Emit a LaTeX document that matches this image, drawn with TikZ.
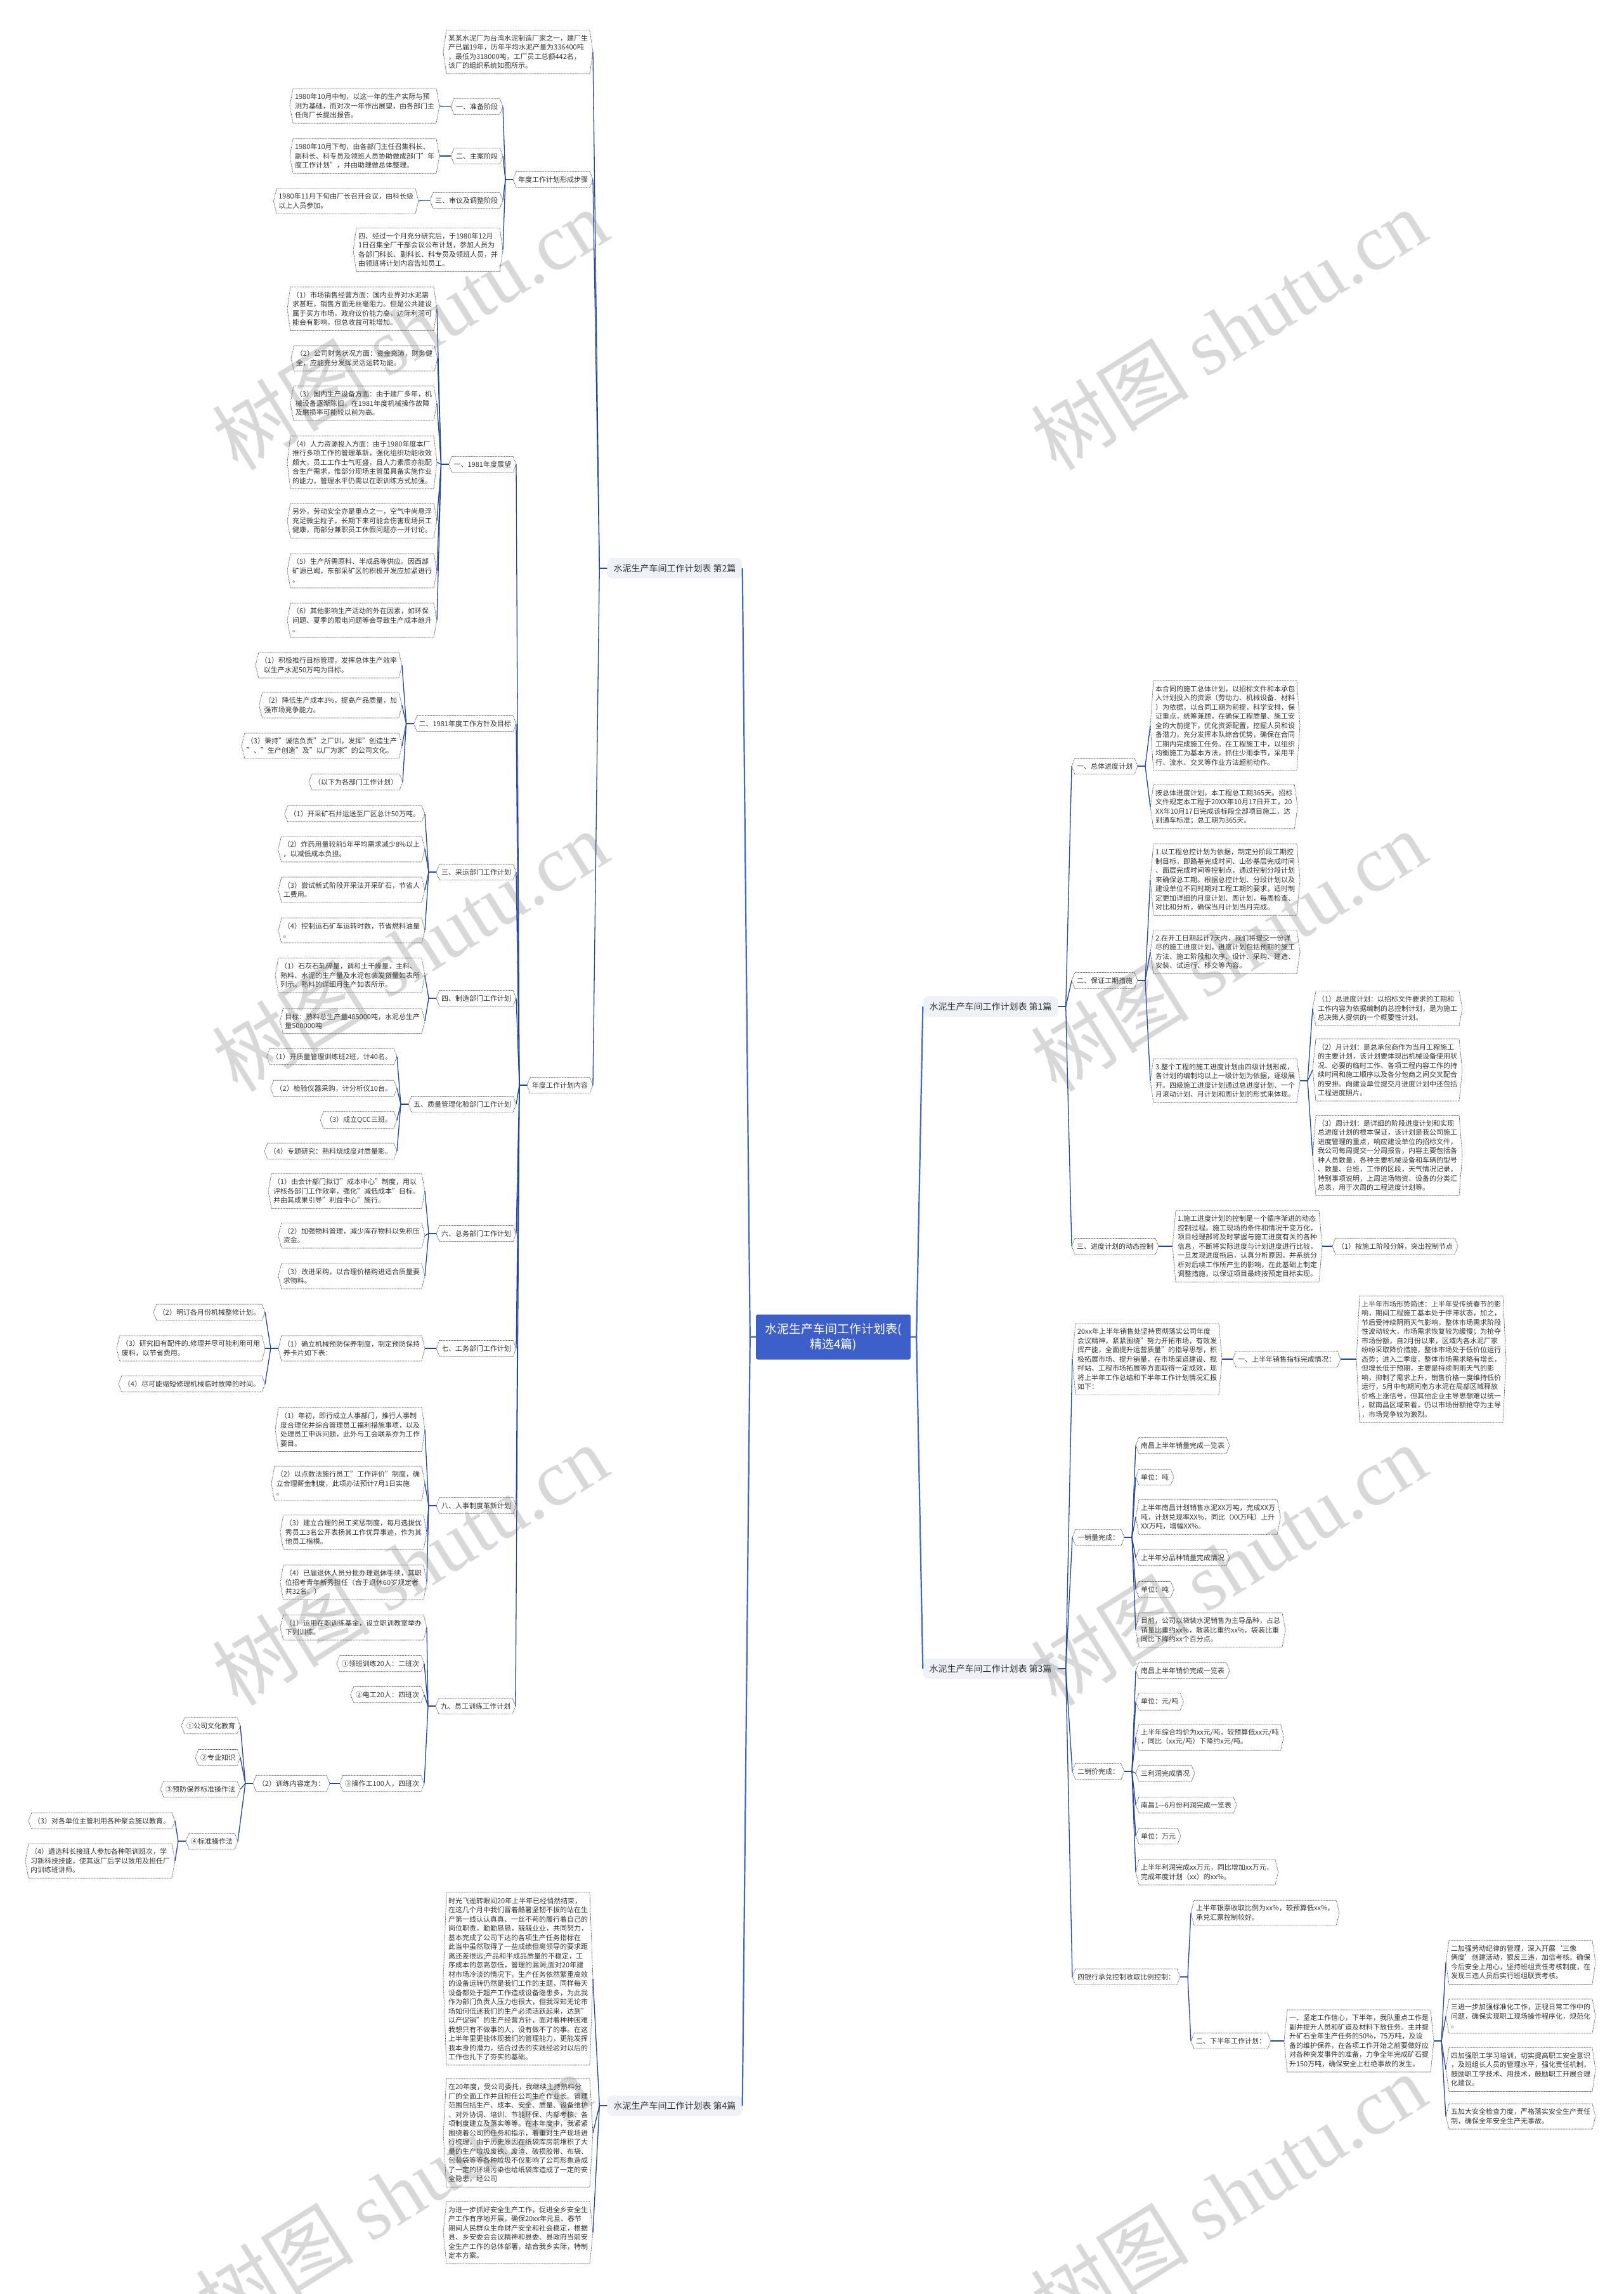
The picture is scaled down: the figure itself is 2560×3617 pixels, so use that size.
\documentclass[tikz,border=0pt]{standalone}
\usepackage{fontspec}
\setmainfont{Noto Sans CJK SC}
\newfontfamily\latinserif{Liberation Serif}

\definecolor{hubblue}{HTML}{3D5FC9}
\definecolor{trunkblue}{HTML}{4167D0}
\definecolor{linkblue}{HTML}{24469F}
\definecolor{partfill}{HTML}{EEF1F6}
\definecolor{inkgray}{HTML}{333333}
\definecolor{dashgray}{HTML}{555555}

\begin{document}
\begin{tikzpicture}[
    x=1pt, y=-1pt,
    hub/.style={fill=hubblue, text=white, rounded corners=3pt, align=center, font=\fontsize{19}{24}\selectfont, minimum width=244pt, minimum height=71pt, inner sep=6pt},
    part/.style={fill=partfill, text=inkgray, rounded corners=8pt, font=\fontsize{14}{17}\selectfont, minimum width=213pt, minimum height=32pt, inner xsep=8pt},
    txt/.style={text=inkgray, align=left, font=\fontsize{11}{14.5}\selectfont, inner xsep=3pt, inner ysep=7.5pt, outer xsep=5pt, outer ysep=0pt},
    boxline/.style={draw=dashgray, line width=0.7pt, dash pattern=on 1.6pt off 0.9pt, line join=round},
    trunk/.style={draw=trunkblue, line width=2.2pt},
    link/.style={draw=linkblue, line width=1.3pt},
    wmark/.style={text=black!60, opacity=0.25, rotate=32, font=\fontsize{125}{125}\selectfont}
]

% Canvas
\useasboundingbox (0,0) rectangle (2560,3617);
\fill[white] (0,0) rectangle (2560,3617);

% Centre
\node[hub] (root) at (1314,2108) {水泥生产车间工作计划表(\\精选4篇)};

% Parts
\node[part] (p1) at (1562,1587) {水泥生产车间工作计划表 第1篇};
\node[part] (p2) at (1064,896) {水泥生产车间工作计划表 第2篇};
\node[part] (p3) at (1562,2631) {水泥生产车间工作计划表 第3篇};
\node[part] (p4) at (1064,3320) {水泥生产车间工作计划表 第4篇};

% Part 2: intro and steps
\node[txt, anchor=east] (intro) at (935,82) {某某水泥厂为台湾水泥制造厂家之一，建厂生\\产已届19年，历年平均水泥产量为336400吨\\，最低为318000吨，工厂员工总额442名，\\该厂的组织系统如图所示。};
\node[txt, anchor=east] (steps) at (935,283) {年度工作计划形成步骤};
\node[txt, anchor=east] (st1) at (793,168) {一、准备阶段};
\node[txt, anchor=east] (st1a) at (693,167) {1980年10月中旬，以这一年的生产实际与预\\测为基础，而对次一年作出展望，由各部门主\\任向厂长提出报告。};
\node[txt, anchor=east] (st2) at (793,246) {二、主案阶段};
\node[txt, anchor=east] (st2a) at (693,246) {1980年10月下旬，由各部门主任召集科长、\\副科长、科专员及领班人员协助做成部门"年\\度工作计划"，并由助理做总体整理。};
\node[txt, anchor=east] (st3) at (793,316) {三、审议及调整阶段};
\node[txt, anchor=east] (st3a) at (660,317) {1980年11月下旬由厂长召开会议，由科长级\\以上人员参加。};
\node[txt, anchor=east] (st4) at (793,394) {四、经过一个月充分研究后，于1980年12月\\1日召集全厂干部会议公布计划，参加人员为\\各部门科长、副科长、科专员及领班人员，并\\由领班将计划内容告知员工。};

% Part 2: plan content
\node[txt, anchor=east] (content) at (935,1711) {年度工作计划内容};
\node[txt, anchor=east] (c1) at (814,732) {一、1981年度展望};
\node[txt, anchor=east] (c1a) at (689,487) {（1）市场销售经营方面：国内业界对水泥需\\求甚旺，销售方面无丝毫阻力。但是公共建设\\属于买方市场，政府议价能力高，边际利润可\\能会有影响，但总收益可能增加。};
\node[txt, anchor=east] (c1b) at (690,565) {（2）公司财务状况方面：资金充沛，财务健\\全，应能充分发挥灵活运转功能。};
\node[txt, anchor=east] (c1c) at (689,636) {（3）国内生产设备方面：由于建厂多年，机\\械设备逐渐陈旧，在1981年度机械操作故障\\及磨损率可能较以前为高。};
\node[txt, anchor=east] (c1d) at (689,729) {（4）人力资源投入方面：由于1980年度本厂\\推行多项工作的管理革新，强化组织功能收效\\颇大，员工工作士气旺盛，且人力素质亦能配\\合生产需求，惟部分现场主管虽具备实施作业\\的能力，管理水平仍需以在职训练方式加强。};
\node[txt, anchor=east] (c1e) at (689,821) {另外，劳动安全亦是重点之一，空气中尚悬浮\\充足微尘粒子，长期下来可能会伤害现场员工\\健康，而部分兼职员工休假问题亦一并讨论。};
\node[txt, anchor=east] (c1f) at (689,900) {（5）生产所需原料、半成品等供应。因西部\\矿源已竭，东部采矿区的积极开发应加紧进行\\。};
\node[txt, anchor=east] (c1g) at (689,978) {（6）其他影响生产活动的外在因素，如环保\\问题、夏季的限电问题等会导致生产成本趋升\\。};

\node[txt, anchor=east] (c2) at (814,1141) {二、1981年度工作方针及目标};
\node[txt, anchor=east] (c2a) at (634,1049) {（1）积极推行目标管理，发挥总体生产效率\\\hspace{5pt}以生产水泥50万吨为目标。};
\node[txt, anchor=east] (c2b) at (634,1112) {（2）降低生产成本3\%，提高产品质量，加\\强市场竞争能力。};
\node[txt, anchor=east] (c2c) at (634,1176) {（3）秉持"诚信负责"之厂训，发挥"创造生产\\"、"生产创造"及"以厂为家"的公司文化。};
\node[txt, anchor=east] (c2d) at (635,1233) {（以下为各部门工作计划）};

\node[txt, anchor=east] (c3) at (814,1375) {三、采运部门工作计划};
\node[txt, anchor=east] (c3a) at (670,1283) {（1）开采矿石并运送至厂区总计50万吨。};
\node[txt, anchor=east] (c3b) at (670,1339) {（2）炸药用量较前5年平均需求减少8\%以上\\，以减低成本负担。};
\node[txt, anchor=east] (c3c) at (670,1403) {（3）尝试新式阶段开采法开采矿石，节省人\\工费用。};
\node[txt, anchor=east] (c3d) at (670,1467) {（4）控制运石矿车运转时数，节省燃料油量\\。};

\node[txt, anchor=east] (c4) at (814,1574) {四、制造部门工作计划};
\node[txt, anchor=east] (c4a) at (670,1538) {（1）石灰石轧碎量，调和土干燥量，主料、\\熟料、水泥的生产量及水泥包装发货量如表所\\列示。熟料的详细月生产如表所示。};
\node[txt, anchor=east] (c4b) at (670,1610) {目标：熟料总生产量485000吨，水泥总生产\\量500000吨};

\node[txt, anchor=east] (c5) at (814,1741) {五、质量管理化验部门工作计划};
\node[txt, anchor=east] (c5a) at (626,1666) {（1）开质量管理训练班2班，计40名。};
\node[txt, anchor=east] (c5b) at (626,1716) {（2）检验仪器采购，计分析仪10台。};
\node[txt, anchor=east] (c5c) at (626,1766) {（3）成立QCC三班。};
\node[txt, anchor=east] (c5d) at (626,1815) {（4）专题研究：熟料烧成度对质量影。};

\node[txt, anchor=east] (c6) at (814,1945) {六、总务部门工作计划};
\node[txt, anchor=east] (c6a) at (670,1878) {（1）由会计部门拟订"成本中心"制度，用以\\评核各部门工作效率，强化"减低成本"目标。\\并由其成果引导"利益中心"施行。};
\node[txt, anchor=east] (c6b) at (670,1948) {（2）加强物料管理，减少库存物料以免积压\\资金。};
\node[txt, anchor=east] (c6c) at (670,2012) {（3）改进采购，以合理价格购进适合质量要\\求物料。};

\node[txt, anchor=east] (c7) at (814,2126) {七、工务部门工作计划};
\node[txt, anchor=east] (c7a) at (670,2126) {（1）确立机械预防保养制度，制定预防保持\\养卡片如下表：};
\node[txt, anchor=east] (c7a1) at (418,2069) {（2）明订各月份机械整修计划。};
\node[txt, anchor=east] (c7a2) at (418,2126) {（3）研究旧有配件的.修理并尽可能利用可用\\废料，以节省费用。};
\node[txt, anchor=east] (c7a3) at (418,2182) {（4）尽可能缩短修理机械临时故障的时间。};

\node[txt, anchor=east] (c8) at (814,2374) {八、人事制度革新计划};
\node[txt, anchor=east] (c8a) at (670,2254) {（1）年初，即行成立人事部门，推行人事制\\度合理化并综合管理员工福利措施事项，以及\\处理员工申诉问题，此外与工会联系亦为工作\\要目。};
\node[txt, anchor=east] (c8b) at (670,2339) {（2）以点数法施行员工"工作评价"制度，确\\立合理薪金制度，此项办法预计7月1日实施\\。};
\node[txt, anchor=east] (c8c) at (673,2416) {（3）建立合理的员工奖惩制度，每月选拔优\\秀员工3名公开表扬其工作优异事迹，作为其\\他员工楷模。};
\node[txt, anchor=east] (c8d) at (673,2495) {（4）已届退休人员分批办理退休手续，其职\\位招考青年新秀担任（合于退休60岁规定者\\共32名。）};

\node[txt, anchor=east] (c9) at (813,2690) {九、员工训练工作计划};
\node[txt, anchor=east] (c9a) at (673,2566) {（1）运用在职训练基金，设立职训教室举办\\下列训练。};
\node[txt, anchor=east] (c9b) at (669,2623) {①领班训练20人：二班次};
\node[txt, anchor=east] (c9c) at (669,2672) {②电工20人：四班次};
\node[txt, anchor=east] (c9d) at (669,2812) {③操作工100人，四班次};
\node[txt, anchor=east] (c9d1) at (520,2812) {（2）训练内容定为：};
\node[txt, anchor=east] (c9e1) at (379,2721) {①公司文化教育};
\node[txt, anchor=east] (c9e2) at (379,2771) {②专业知识};
\node[txt, anchor=east] (c9e3) at (379,2821) {③预防保养标准操作法};
\node[txt, anchor=east] (c9e4) at (375,2903) {④标准操作法};
\node[txt, anchor=east] (c9f1) at (276,2871) {（3）对各单位主管利用各种聚会施以教育。};
\node[txt, anchor=east] (c9f2) at (276,2934) {（4）遴选科长接班人参加各种职训班次，学\\习新科技技能，使其返厂后学以致用及担任厂\\内训练班讲师。};

% Part 4
\node[txt, anchor=east] (d1) at (935,3120) {时光飞逝转眼间20年上半年已经悄然结束，\\在这几个月中我们冒着酷暑坚韧不拔的站在生\\产第一线认认真真、一丝不苟的履行着自己的\\岗位职责，勤勤恳恳，兢兢业业，共同努力，\\基本完成了公司下达的各项生产任务指标在\\此当中虽然取得了一些成绩但离领导的要求距\\离还差很远;产品和半成品质量的不稳定，工\\序成本的忽高忽低，管理的漏洞;面对20年建\\材市场冷淡的情况下，生产任务依然繁重高效\\的设备运转仍然是我们工作的主题，同样每天\\设备都处于超产工作造成设备隐患多，为此我\\作为部门负责人压力也很大，但我深知无论市\\场如何低迷我们的生产必须活跃起来，达到"\\以产促销"的生产经营方针，面对着种种困难\\我想只有不做事的人，没有做不了的事。在这\\上半年里更能体现我们的管理能力，更能发挥\\我本身的潜力，结合过去的实践经验对以后的\\工作也扎下了夯实的基础。};
\node[txt, anchor=east] (d2) at (935,3363) {在20年度，受公司委托，我继续主持熟料分\\厂的全面工作并且担任公司生产作业长。管理\\范围包括生产、成本、安全、质量、设备维护\\、对外协调、培训、节能环保、内部考核、各\\项制度建立及落实等等。在本年度中，我紧紧\\围绕着公司的任务和指示，着重对生产现场进\\行梳理，由于历史原因在纸袋库房前堆积了大\\量的生产垃圾废铁、废渣、破损胶带、布袋、\\包装袋等等各种垃圾不仅影响了公司形象造成\\了一定的环境污染也给纸袋库造成了一定的安\\全隐患，经公司};
\node[txt, anchor=east] (d3) at (935,3520) {为进一步抓好安全生产工作，促进全乡安全生\\产工作有序地开展，确保20xx年元旦、春节\\期间人民群众生命财产安全和社会稳定，根据\\县、乡安委会会议精神和县委、县政府当前安\\全生产工作的总体部署，结合我乡实际，特制\\定本方案。};

% Part 1
\node[txt, anchor=west] (r1) at (1690,1208) {一、总体进度计划};
\node[txt, anchor=west] (r1a) at (1814,1144) {本合同的施工总体计划，以招标文件和本承包\\人计划投入的资源（劳动力、机械设备、材料\\）为依据，以合同工期为前提，科学安排，保\\证重点，统筹兼顾，在确保工程质量、施工安\\全的大前提下，优化资源配置，挖掘人员和设\\备潜力，充分发挥本队综合优势，确保在合同\\工期内完成施工任务。在工程施工中，以组织\\均衡施工为基本方法，抓住少雨季节，采用平\\行、流水、交叉等作业方法超前动作。};
\node[txt, anchor=west] (r1b) at (1814,1272) {按总体进度计划，本工程总工期365天。招标\\文件规定本工程于20XX年10月17日开工，20\\XX年10月17日完成该标段全部项目施工，达\\到通车标准；总工期为365天。};
\node[txt, anchor=west] (r2) at (1690,1546) {二、保证工期措施};
\node[txt, anchor=west] (r2a) at (1814,1387) {1.以工程总控计划为依据，制定分阶段工期控\\制目标，即路基完成时间、山砂基层完成时间\\、面层完成时间等控制点，通过控制分段计划\\来确保总工期。根据总控计划、分段计划以及\\建设单位不同时期对工程工期的要求，适时制\\定更加详细的月度计划、周计划，每周检查、\\对比和分析，确保当月计划当月完成。};
\node[txt, anchor=west] (r2b) at (1814,1501) {2.在开工日期起计7天内，我们将提交一份详\\尽的施工进度计划，进度计划包括预期的施工\\方法、施工阶段和次序、设计、采购、建造、\\安装、试运行、移交等内容。};
\node[txt, anchor=west] (r2c) at (1814,1704) {3.整个工程的施工进度计划由四级计划形成，\\各计划的编制均以上一级计划为依据，逐级展\\开。四级施工进度计划通过总进度计划、一个\\月滚动计划、月计划和周计划的形式来体现。};
\node[txt, anchor=west] (r2c1) at (2070,1590) {（1）总进度计划：以招标文件要求的工期和\\工作内容为依据编制的总控制计划，是为施工\\总决策人提供的一个概要性计划。};
\node[txt, anchor=west] (r2c2) at (2070,1687) {（2）月计划：是总承包商作为当月工程施工\\的主要计划，该计划要体现出机械设备使用状\\况、必要的临时工作、各项工程内容工作的持\\续时间和施工顺序以及各分包商之间交叉配合\\的安排。向建设单位提交月进度计划中还包括\\工程进度照片。};
\node[txt, anchor=west] (r2c3) at (2070,1822) {（3）周计划：是详细的阶段进度计划和实现\\总进度计划的根本保证，该计划是我公司施工\\进度管理的重点，响应建设单位的招标文件，\\我公司每周提交一分周报告，内容主要包括各\\种人员数量，各种主要机械设备和车辆的型号\\、数量、台班，工作的区段，天气情况记录，\\特别事项说明，上周进场物资、设备的分类汇\\总表，用于次周的工程进度计划等。};
\node[txt, anchor=west] (r3) at (1690,1965) {三、进度计划的动态控制};
\node[txt, anchor=west] (r3a) at (1849,1965) {1.施工进度计划的控制是一个循序渐进的动态\\控制过程。施工现场的条件和情况千变万化，\\项目经理部将及时掌握与施工进度有关的各种\\信息，不断将实际进度与计划进度进行比较，\\一旦发现进度拖后，认真分析原因，并系统分\\析对后续工作所产生的影响，在此基础上制定\\调整措施，以保证项目最终按预定目标实现。};
\node[txt, anchor=west] (r3a1) at (2101,1965) {（1）按施工阶段分解，突出控制节点};

% Part 3
\node[txt, anchor=west] (s1) at (1691,2143) {20xx年上半年销售处坚持贯彻落实公司年度\\会议精神，紧紧围绕"努力开拓市场，有效发\\挥产能，全面提升运营质量"的指导思想，积\\极拓展市场、提升销量，在市场渠道建设、搅\\拌站、工程市场拓展等方面取得一定成效，现\\将上半年工作总结和下半年工作计划情况汇报\\如下：};
\node[txt, anchor=west] (s1a) at (1944,2143) {一、上半年销售指标完成情况：};
\node[txt, anchor=west] (s1a1) at (2139,2143) {上半年市场形势简述：上半年受传统春节的影\\响，期间工程施工基本处于停滞状态，加之，\\节后受持续阴雨天气影响，整体市场需求阶段\\性波动较大，市场需求恢复较为缓慢；为抢夺\\市场份额，自2月份以来，区域内各水泥厂家\\纷纷采取降价措施，整体市场处于低价位运行\\态势；进入二季度，整体市场需求略有增长，\\但增长低于预期，主要是持续阴雨天气的影\\响，抑制了需求上升，销售价格一度维持低价\\运行，5月中旬期间南方水泥在局部区域释放\\价格上涨信号，但其他企业主导思想难以统一\\，就南昌区域来看，仍以市场份额抢夺为主导\\，市场竞争较为激烈。};
\node[txt, anchor=west] (s2) at (1691,2424) {一销量完成：};
\node[txt, anchor=west] (s2a) at (1791,2279) {南昌上半年销量完成一览表};
\node[txt, anchor=west] (s2b) at (1791,2329) {单位：吨};
\node[txt, anchor=west] (s2c) at (1791,2392) {上半年南昌计划销售水泥XX万吨，完成XX万\\吨，计划兑现率XX\%，同比（XX万吨）上升\\XX万吨，增幅XX\%。};
\node[txt, anchor=west] (s2d) at (1791,2456) {上半年分品种销量完成情况};
\node[txt, anchor=west] (s2e) at (1791,2506) {单位：吨};
\node[txt, anchor=west] (s2f) at (1791,2570) {目前，公司以袋装水泥销售为主导品种，占总\\销量比重约xx\%，散装比重约xx\%，袋装比重\\同比下降约xx个百分点。};
\node[txt, anchor=west] (s3) at (1691,2793) {二销价完成：};
\node[txt, anchor=west] (s3a) at (1791,2634) {南昌上半年销价完成一览表};
\node[txt, anchor=west] (s3b) at (1791,2683) {单位：元/吨};
\node[txt, anchor=west] (s3c) at (1791,2739) {上半年综合均价为xx元/吨，较预算低xx元/吨\\，同比（xx元/吨）下降约x元/吨。};
\node[txt, anchor=west] (s3d) at (1791,2796) {三利润完成情况};
\node[txt, anchor=west] (s3e) at (1791,2846) {南昌1—6月份利润完成一览表};
\node[txt, anchor=west] (s3f) at (1791,2895) {单位：万元};
\node[txt, anchor=west] (s3g) at (1791,2952) {上半年利润完成xx万元，同比增加xx万元，\\完成年度计划（xx）的xx\%。};
\node[txt, anchor=west] (s4) at (1691,3117) {四银行承兑控制收取比例控制：};
\node[txt, anchor=west] (s4a) at (1878,3016) {上半年银票收取比例为xx\%，较预算低xx\%，\\承兑汇票控制较好。};
\node[txt, anchor=west] (s4b) at (1878,3218) {二、下半年工作计划：};
\node[txt, anchor=west] (s4b1) at (2025,3218) {一、坚定工作信心，下半年，我队重点工作是\\副井提升人员和矿道及材料下放任务。主井提\\升矿石全年生产任务的50\%，75万吨，及设\\备的维护保养，在各项工作开始之前要做好应\\对各种突发事件的准备，力争全年完成矿石提\\升150万吨，确保安全上杜绝事故的发生。};
\node[txt, anchor=west] (s4c1) at (2280,3094) {二加强劳动纪律的管理，深入开展‘三像\\俩度’创建活动，狠反三违，加倍考核。确保\\今后安全上用心，坚持班组责任考核制度，在\\发现三违人员后实行班组联责考核。};
\node[txt, anchor=west] (s4c2) at (2280,3179) {三进一步加强标准化工作，正视日常工作中的\\问题，确保实现职工现场操作程序化，规范化\\。};
\node[txt, anchor=west] (s4c3) at (2280,3263) {四加强职工学习培训，切实提高职工安全意识\\，及班组长人员的管理水平，强化责任机制，\\鼓励职工学技术、用技术，鼓励职工开展合理\\化建议。};
\node[txt, anchor=west] (s4c4) at (2280,3337) {五加大安全检查力度，严格落实安全生产责任\\制，确保全年安全生产无事故。};

% Box outlines
\foreach \n in {intro,steps,st1,st1a,st2,st2a,st3,st3a,st4,content,
    c1,c1a,c1b,c1c,c1d,c1e,c1f,c1g,c2,c2a,c2b,c2c,c2d,c3,c3a,c3b,c3c,c3d,
    c4,c4a,c4b,c5,c5a,c5b,c5c,c5d,c6,c6a,c6b,c6c,c7,c7a,c7a1,c7a2,c7a3,
    c8,c8a,c8b,c8c,c8d,c9,c9a,c9b,c9c,c9d,c9d1,c9e1,c9e2,c9e3,c9e4,c9f1,c9f2,
    d1,d2,d3,r1,r1a,r1b,r2,r2a,r2b,r2c,r2c1,r2c2,r2c3,r3,r3a,r3a1,
    s1,s1a,s1a1,s2,s2a,s2b,s2c,s2d,s2e,s2f,s3,s3a,s3b,s3c,s3d,s3e,s3f,s3g,
    s4,s4a,s4b,s4b1,s4c1,s4c2,s4c3,s4c4}
    \draw[boxline] ([xshift=5pt]\n.north west) -- ([xshift=-5pt]\n.north east) -- (\n.east)
        -- ([xshift=-5pt]\n.south east) -- ([xshift=5pt]\n.south west) -- (\n.west) -- cycle;

% Trunk
\foreach \c in {p2,p4} \draw[trunk] (root.west) -- ++(-9,0) -- (\c.east);
\foreach \c in {p1,p3} \draw[trunk] (root.east) -- ++(9,0) -- (\c.west);

% Left connectors
\foreach \p/\c in {p2/intro,p2/steps,p2/content,steps/st1,steps/st2,steps/st3,steps/st4,
    st1/st1a,st2/st2a,st3/st3a,
    content/c1,content/c2,content/c3,content/c4,content/c5,content/c6,content/c7,content/c8,content/c9,
    c1/c1a,c1/c1b,c1/c1c,c1/c1d,c1/c1e,c1/c1f,c1/c1g,c2/c2a,c2/c2b,c2/c2c,c2/c2d,
    c3/c3a,c3/c3b,c3/c3c,c3/c3d,c4/c4a,c4/c4b,c5/c5a,c5/c5b,c5/c5c,c5/c5d,
    c6/c6a,c6/c6b,c6/c6c,c7/c7a,c7a/c7a1,c7a/c7a2,c7a/c7a3,c8/c8a,c8/c8b,c8/c8c,c8/c8d,
    c9/c9a,c9/c9b,c9/c9c,c9/c9d,c9d/c9d1,c9d1/c9e1,c9d1/c9e2,c9d1/c9e3,c9d1/c9e4,
    c9e4/c9f1,c9e4/c9f2,p4/d1,p4/d2,p4/d3}
    \draw[link] (\p.west) -- ++(-12,0) -- (\c.east);

% Right connectors
\foreach \p/\c in {p1/r1,p1/r2,p1/r3,r1/r1a,r1/r1b,r2/r2a,r2/r2b,r2/r2c,
    r2c/r2c1,r2c/r2c2,r2c/r2c3,r3/r3a,r3a/r3a1,
    p3/s1,p3/s2,p3/s3,p3/s4,s1/s1a,s1a/s1a1,
    s2/s2a,s2/s2b,s2/s2c,s2/s2d,s2/s2e,s2/s2f,
    s3/s3a,s3/s3b,s3/s3c,s3/s3d,s3/s3e,s3/s3f,s3/s3g,
    s4/s4a,s4/s4b,s4b/s4b1,s4b1/s4c1,s4b1/s4c2,s4b1/s4c3,s4b1/s4c4}
    \draw[link] (\p.east) -- ++(12,0) -- (\c.west);

% Watermarks
\foreach \i/\x/\y in {1/646/519,2/1937/519,3/646/1499,4/1937/1499,5/646/2467,6/1937/2467,7/620/3459,8/1937/3459}
    \node[wmark] (wm\i) at (\x,\y) {树图 {\latinserif shutu.cn}};

\end{tikzpicture}
\end{document}
